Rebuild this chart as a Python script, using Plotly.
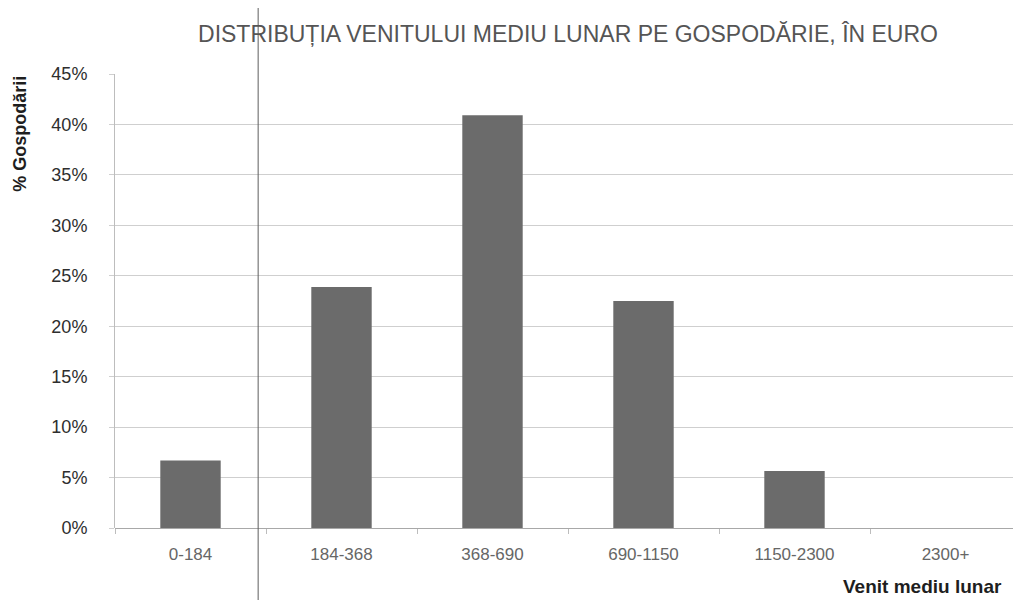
import plotly.graph_objects as go

categories = ["0-184", "184-368", "368-690", "690-1150", "1150-2300", "2300+"]
values = [6.7, 23.9, 40.9, 22.5, 5.65, 0.0]
y_tick_values = [0, 5, 10, 15, 20, 25, 30, 35, 40, 45]
y_tick_labels = ["0%", "5%", "10%", "15%", "20%", "25%", "30%", "35%", "40%", "45%"]

title_text = "DISTRIBUȚIA VENITULUI MEDIU LUNAR PE GOSPODĂRIE, ÎN EURO"
y_title = "% Gospodării"
x_title = "Venit mediu lunar"

W, H = 1013, 592  # page body adds 8px margin on the left and top

fig = go.Figure()
fig.add_trace(go.Bar(
    x=categories,
    y=values,
    width=0.4,
    marker=dict(color="#6b6b6b", line=dict(width=0)),
    hoverinfo="x+y",
))

fig.update_layout(
    width=W,
    height=H,
    paper_bgcolor="white",
    plot_bgcolor="white",
    margin=dict(l=107, r=0, t=66, b=72),
    showlegend=False,
    title=dict(
        text=title_text,
        x=0.5, xref="paper", xanchor="center",
        y=1 - 25.5 / H, yref="container", yanchor="middle",
        font=dict(family="Liberation Sans, Arial, sans-serif", size=23, color="#555555"),
    ),
)

fig.update_xaxes(
    type="category",
    showgrid=False,
    showline=False,
    ticks="outside",
    tickson="boundaries",
    ticklen=5,
    tickcolor="#bdbdbd",
    tickfont=dict(family="Liberation Sans, Arial, sans-serif", size=17, color="#666666"),
    ticklabelstandoff=14,
)

fig.update_yaxes(
    range=[0, 45],
    tickvals=y_tick_values,
    ticktext=y_tick_labels,
    showgrid=True,
    gridcolor="#cfcfcf",
    gridwidth=1,
    showline=True,
    linecolor="#bdbdbd",
    linewidth=1,
    ticks="outside",
    ticklen=5,
    tickcolor="#cfcfcf",
    tickfont=dict(family="Liberation Sans, Arial, sans-serif", size=18, color="#2e2e2e"),
    ticklabelstandoff=18,
    zeroline=True,
    zerolinecolor="#a8a8a8",
    zerolinewidth=1,
)

# rotated y-axis label, placed near the top as in the original
fig.add_annotation(
    text=y_title,
    xref="paper", yref="paper",
    x=-0.105, y=0.868,
    xanchor="center", yanchor="middle",
    textangle=-90,
    showarrow=False,
    font=dict(family="Liberation Sans, Arial, sans-serif", size=18, color="#1e1e1e", weight="bold"),
)

# x-axis title at the bottom right
fig.add_annotation(
    text=x_title,
    xref="paper", yref="paper",
    x=0.981, y=-0.128,
    xanchor="right", yanchor="middle",
    showarrow=False,
    font=dict(family="Liberation Sans, Arial, sans-serif", size=19, color="#1e1e1e", weight="bold"),
)

# scan artifact: thin vertical line across the page
fig.add_shape(
    type="line",
    xref="paper", yref="paper",
    x0=0.158, x1=0.158, y0=-0.16, y1=1.163,
    line=dict(color="#5e5e5e", width=1),
)

fig.write_html("out.html")
